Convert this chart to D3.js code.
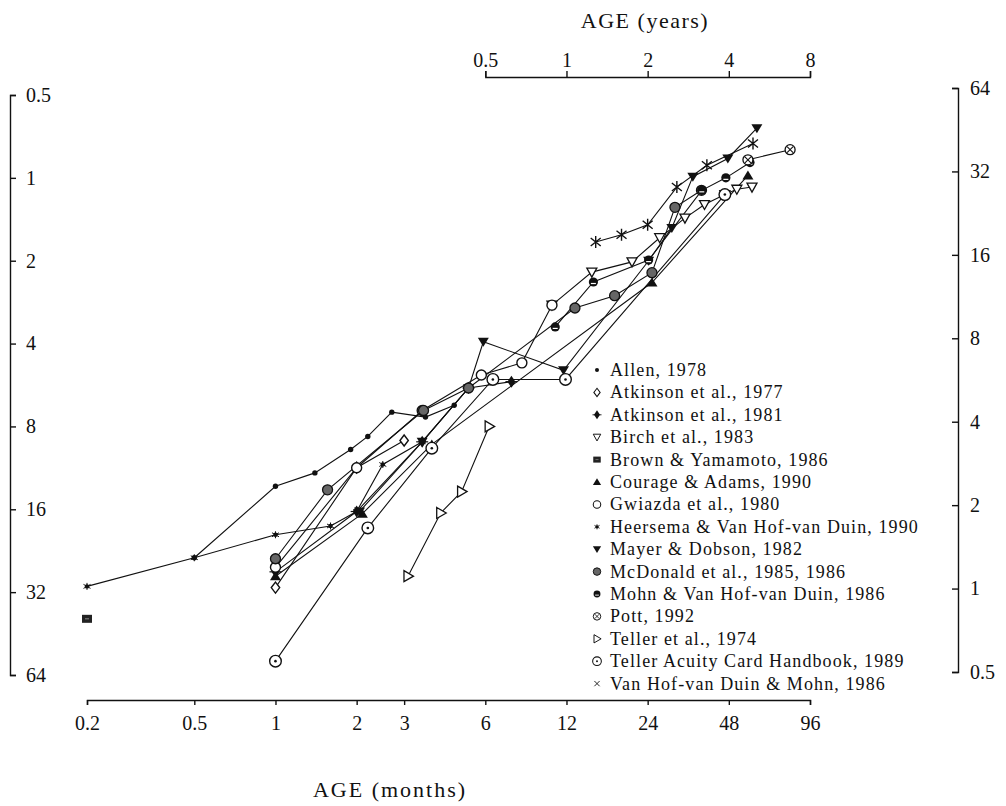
<!DOCTYPE html>
<html>
<head>
<meta charset="utf-8">
<script src="https://cdn.jsdelivr.net/npm/d3@7"></script>
<style>
  body { margin: 0; background: #fff; }
  svg { display: block; }
  text { font-family: "Liberation Serif", "Times New Roman", serif; fill: #111; }
</style>
</head>
<body>
<div id="chart-area"></div>
<script>
// tick labels
const monthTicks = [0.2, 0.5, 1, 2, 3, 6, 12, 24, 48, 96];
const yearTicks = [0.5, 1, 2, 4, 8];
const leftTicks = [0.5, 1, 2, 4, 8, 16, 32, 64];
const rightTicks = [64, 32, 16, 8, 4, 2, 1, 0.5];

// legend names
const studies = [
  'Allen, 1978',
  'Atkinson et al., 1977',
  'Atkinson et al., 1981',
  'Birch et al., 1983',
  'Brown & Yamamoto, 1986',
  'Courage & Adams, 1990',
  'Gwiazda et al., 1980',
  'Heersema & Van Hof-van Duin, 1990',
  'Mayer & Dobson, 1982',
  'McDonald et al., 1985, 1986',
  'Mohn & Van Hof-van Duin, 1986',
  'Pott, 1992',
  'Teller et al., 1974',
  'Teller Acuity Card Handbook, 1989',
  'Van Hof-van Duin & Mohn, 1986'
];

// [age in months, acuity (left axis units)]
const allen = [[0.5, 24], [1, 13.2], [1.4, 11.8], [1.9, 9.7], [2.2, 8.7], [2.7, 7.1], [3.6, 7.4], [4.6, 6.7]];
const atkinson77 = [[1, 30.8], [2, 11.3], [3, 9]];
const atkinson81 = [[1, 27], [2, 16.3], [3.5, 9.1], [5.2, 5.8], [7.5, 5.5]];
const birch = [[10.6, 2.9], [14.9, 2.2], [21, 2.02], [26.6, 1.65], [33, 1.4], [39, 1.25], [46.4, 1.15], [51.4, 1.1], [58.5, 1.08]];
const brown = [[0.2, 40]];
const courage = [[1, 28], [2.1, 16.6], [3.8, 9.3], [24.9, 2.4], [56.5, 0.98]];
const gwiazda = [[1, 26], [2, 11.3], [3.5, 7.0], [5.8, 5.2], [8.2, 4.7], [10.6, 2.9]];
const heersema = [[0.2, 30.5], [0.5, 24], [1, 19.8], [1.6, 18.4], [2, 16.3], [2.5, 11], [3.5, 9.1], [5.2, 5.8]];
const mayer = [[2.05, 16.3], [3.5, 9.1], [5.2, 5.8], [5.9, 3.94], [11.7, 5.0], [24.2, 2.0], [29.5, 1.52], [35.3, 0.99], [47.6, 0.85], [61, 0.66]];
const mcdonald = [[1, 24.2], [1.56, 13.6], [3.54, 7.0], [5.2, 5.8], [12.9, 2.97], [18.1, 2.68], [24.9, 2.21], [30.3, 1.28], [38, 1.11]];
const mohn = [[10.9, 3.48], [15.1, 2.39], [24.2, 1.99], [38.1, 1.11], [46.8, 1.0], [57.5, 0.88]];
const pott = [[56.5, 0.86], [81, 0.79]];
const teller74 = [[3.1, 28], [4.1, 16.5], [4.9, 13.8], [6.2, 8]];
const tellerCard = [[1, 57], [2.2, 18.7], [3.8, 9.6], [6.4, 5.4], [11.9, 5.4], [46.4, 1.15]];
const vanHof = [[15.4, 1.71], [19.2, 1.61], [24, 1.48], [30.8, 1.08], [39.8, 0.9], [59, 0.75]];

const seriesValues = [allen, atkinson77, atkinson81, birch, brown, courage, gwiazda, heersema,
  mayer, mcdonald, mohn, pott, teller74, tellerCard, vanHof];
const markerTypes = ['dot', 'diamondOpen', 'diamondFill', 'triDownOpen', 'square', 'triUp', 'circleOpen', 'star',
  'triDown', 'circleShaded', 'halfCircle', 'circleX', 'triRight', 'circleDot', 'asterisk'];

const width = 1006;
const height = 806;

const svg = d3.select('#chart-area').append('svg')
  .attr('width', width)
  .attr('height', height);

svg.append('rect').attr('width', width).attr('height', height).attr('fill', '#fff');

// scales
const x = d3.scaleLog().domain([0.2, 96]).range([87, 810]);
const xYears = d3.scaleLog().domain([0.5, 8]).range([x(6), x(96)]);
const yLeft = d3.scaleLog().base(2).domain([0.5, 64]).range([95, 675]);
const yRight = d3.scaleLog().base(2).domain([64, 0.5]).range([88, 672]);

// axes
function styleAxis(g) {
  g.selectAll('path, line').attr('stroke', '#111').attr('stroke-width', 1.4);
  g.selectAll('text').attr('font-family', '"Liberation Serif", serif').attr('font-size', 20).attr('fill', '#111');
}

svg.append('g')
  .attr('transform', 'translate(0,700)')
  .call(d3.axisBottom(x).tickValues(monthTicks).tickFormat(d => d).tickSize(5).tickSizeOuter(5).tickPadding(11))
  .call(styleAxis);

svg.append('g')
  .attr('transform', 'translate(0,77)')
  .call(d3.axisTop(xYears).tickValues(yearTicks).tickFormat(d => d).tickSize(6).tickSizeOuter(6).tickPadding(4))
  .call(styleAxis);

svg.append('g')
  .attr('transform', 'translate(10,0)')
  .call(d3.axisRight(yLeft).tickValues(leftTicks).tickFormat(d => d).tickSize(6).tickSizeOuter(6).tickPadding(10))
  .call(styleAxis);

svg.append('g')
  .attr('transform', 'translate(958,0)')
  .call(d3.axisRight(yRight).tickValues(rightTicks).tickFormat(d => d).tickSize(-6).tickSizeOuter(-6).tickPadding(12))
  .call(styleAxis);

// axis titles
svg.append('text')
  .attr('x', 390).attr('y', 797)
  .attr('text-anchor', 'middle')
  .attr('font-size', 22)
  .attr('letter-spacing', 2)
  .text('AGE (months)');

svg.append('text')
  .attr('x', 645).attr('y', 28)
  .attr('text-anchor', 'middle')
  .attr('font-size', 22)
  .attr('letter-spacing', 1.5)
  .text('AGE (years)');

// marker shapes
function drawMarker(g, type) {
  const ink = '#111';
  switch (type) {
    case 'dot':
      g.append('circle').attr('r', 2.7).attr('fill', ink);
      break;
    case 'diamondOpen':
      g.append('path').attr('d', 'M0,-5.5L4.2,0L0,5.5L-4.2,0Z').attr('fill', '#fff').attr('stroke', ink).attr('stroke-width', 1.4);
      break;
    case 'diamondFill':
      g.append('path').attr('d', 'M0,-6L4,0L0,6L-4,0Z').attr('fill', ink);
      g.append('path').attr('d', 'M-6,0H6').attr('stroke', ink).attr('stroke-width', 1.2);
      break;
    case 'triDownOpen':
      g.append('path').attr('d', 'M-5,-4L5,-4L0,5Z').attr('fill', '#fff').attr('stroke', ink).attr('stroke-width', 1.3);
      break;
    case 'square':
      g.append('rect').attr('x', -5).attr('y', -4).attr('width', 10).attr('height', 8).attr('fill', '#222');
      g.append('path').attr('d', 'M-2,0H2').attr('stroke', '#888').attr('stroke-width', 1);
      break;
    case 'triUp':
      g.append('path').attr('d', 'M0,-5L5.5,4L-5.5,4Z').attr('fill', ink);
      break;
    case 'circleOpen':
      g.append('circle').attr('r', 5).attr('fill', '#fff').attr('stroke', ink).attr('stroke-width', 1.4);
      break;
    case 'star':
      g.append('circle').attr('r', 2.2).attr('fill', ink);
      g.append('path').attr('d', 'M-3.5,-2L3.5,2M-3.5,2L3.5,-2M0,-3.5V3.5').attr('stroke', ink).attr('stroke-width', 1);
      break;
    case 'triDown':
      g.append('path').attr('d', 'M-5.5,-4L5.5,-4L0,5Z').attr('fill', ink);
      break;
    case 'circleShaded':
      g.append('circle').attr('r', 5).attr('fill', '#666').attr('stroke', ink).attr('stroke-width', 1.3);
      break;
    case 'halfCircle':
      g.append('circle').attr('r', 4.6).attr('fill', ink);
      g.append('path').attr('d', 'M-2.5,1.5H2.5').attr('stroke', '#fff').attr('stroke-width', 1.2);
      break;
    case 'circleX':
      g.append('circle').attr('r', 5).attr('fill', '#fff').attr('stroke', ink).attr('stroke-width', 1.3);
      g.append('path').attr('d', 'M-3,-3L3,3M-3,3L3,-3').attr('stroke', ink).attr('stroke-width', 1.1);
      break;
    case 'triRight':
      g.append('path').attr('d', 'M-4,-5.5L5.5,0L-4,5.5Z').attr('fill', '#fff').attr('stroke', ink).attr('stroke-width', 1.3);
      break;
    case 'circleDot':
      g.append('circle').attr('r', 5.8).attr('fill', '#fff').attr('stroke', ink).attr('stroke-width', 1.4);
      g.append('circle').attr('r', 1.3).attr('fill', ink);
      break;
    case 'asterisk':
      g.append('path').attr('d', 'M-5,-4L5,4M-5,4L5,-4M0,-6V6').attr('stroke', ink).attr('stroke-width', 1.4);
      break;
    case 'times':
      g.append('path').attr('d', 'M-3.5,-3.5L3.5,3.5M-3.5,3.5L3.5,-3.5').attr('stroke', ink).attr('stroke-width', 1.2);
      break;
  }
}

// lines
const line = d3.line().x(d => x(d[0])).y(d => yLeft(d[1]));
const plot = svg.append('g');

seriesValues.forEach(values => {
  if (values.length > 1) {
    plot.append('path')
      .attr('d', line(values))
      .attr('fill', 'none')
      .attr('stroke', '#111')
      .attr('stroke-width', 1.1);
  }
});

// markers
seriesValues.forEach((values, i) => {
  values.forEach(d => {
    const m = plot.append('g').attr('transform', `translate(${x(d[0])},${yLeft(d[1])})`);
    drawMarker(m, markerTypes[i]);
  });
});

// legend
const legend = svg.append('g').attr('transform', 'translate(597,370)');
studies.forEach((name, i) => {
  const row = legend.append('g').attr('transform', `translate(0,${i * 22.4})`);
  const m = row.append('g').attr('transform', 'scale(0.75)');
  drawMarker(m, markerTypes[i] === 'asterisk' ? 'times' : markerTypes[i]);
  row.append('text')
    .attr('x', 13)
    .attr('y', 6)
    .attr('font-size', 18)
    .attr('letter-spacing', 1.1)
    .text(name);
});
</script>
</body>
</html>
